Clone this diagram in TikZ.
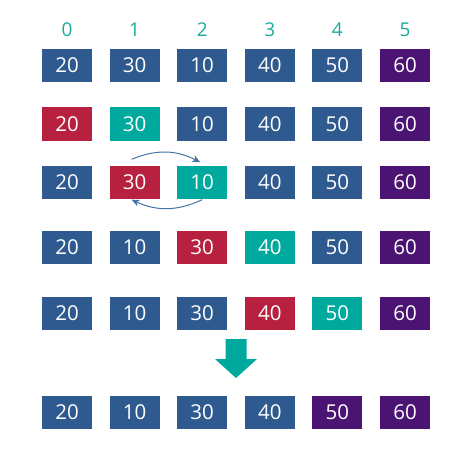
\documentclass[tikz,border=0pt]{standalone}
\usepackage{fontspec}
\setmainfont{Open Sans}
\usetikzlibrary{arrows.meta,calc}
\definecolor{cb}{HTML}{2F5A8F}
\definecolor{cr}{HTML}{B8203F}
\definecolor{ct}{HTML}{00A99D}
\definecolor{cp}{HTML}{4B1472}
\definecolor{cl}{HTML}{1AAA9A}
\definecolor{ca}{HTML}{4673A6}
\begin{document}
\begin{tikzpicture}[x=1pt,y=1pt,
  cell/.style={minimum width=50pt,minimum height=33pt,inner sep=0pt,text=white,font=\fontsize{20.5}{20.5}\selectfont},
  idx/.style={text=cl,font=\fontsize{19}{19}\selectfont,inner sep=0pt},
  swap/.style={ca,line width=1pt,-{Stealth[length=8pt,width=7pt]}}]
\useasboundingbox (0,0) rectangle (465,456);
% index labels
\foreach \i in {0,...,5} {
  \node[idx] (l\i) at ({67+67.6*\i},426) {\i};
}
% rows: name, y, colour/value pairs
\newcommand\mkrow[3]{%
  \foreach \c/\v [count=\k from 0] in {#3} {
    \node[cell,fill=\c] (#1\k) at ({67+67.6*\k},#2) {\v};
  }}
\mkrow{a}{390.5}{cb/20,cb/30,cb/10,cb/40,cb/50,cp/60}
\mkrow{b}{332}{cr/20,ct/30,cb/10,cb/40,cb/50,cp/60}
\mkrow{c}{274}{cb/20,cr/30,ct/10,cb/40,cb/50,cp/60}
\mkrow{d}{208.5}{cb/20,cb/10,cr/30,ct/40,cb/50,cp/60}
\mkrow{e}{142.5}{cb/20,cb/10,cb/30,cr/40,ct/50,cp/60}
\mkrow{f}{43.5}{cb/20,cb/10,cb/30,cb/40,cp/50,cp/60}
% swap arrows
\coordinate (s1) at ($(c1.north)+(-3,6)$);
\coordinate (s2) at ($(c2.north)+(-2,3)$);
\coordinate (s3) at ($(c2.south)+(0,-1)$);
\coordinate (s4) at ($(c1.south)+(-3,-1)$);
\draw[swap] (s1) to[bend left=25] (s2);
\draw[swap] (s3) to[bend left=25] (s4);
% big down arrow
\node[inner sep=0pt] (arr) at (236,97) {};
\fill[ct] ($(arr)+(-10.5,20)$) -- ($(arr)+(10.5,20)$) -- ($(arr)+(10.5,0)$) -- ($(arr)+(21,0)$)
  -- ($(arr)+(0,-19)$) -- ($(arr)+(-21,0)$) -- ($(arr)+(-10.5,0)$) -- cycle;
\end{tikzpicture}
\end{document}
